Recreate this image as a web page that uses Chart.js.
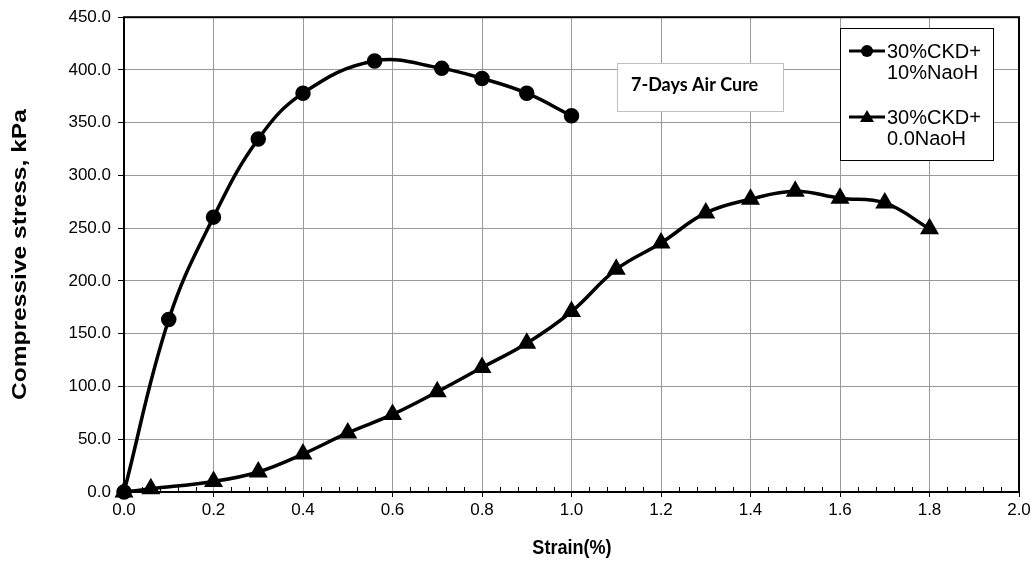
<!DOCTYPE html>
<html>
<head>
<meta charset="utf-8">
<script src="https://cdn.jsdelivr.net/npm/chart.js@4.4.1/dist/chart.umd.min.js"></script>
<style>
  html, body { margin: 0; padding: 0; background: #fff; }
  #wrap { width: 1034px; height: 561px; }
</style>
</head>
<body>
<div id="wrap"><canvas id="stressChart" width="1034" height="561"></canvas></div>
<script>
// strain (%) vs compressive stress (kPa)
const strainNaoh = [0, 0.1, 0.2, 0.3, 0.4, 0.56, 0.71, 0.8, 0.9, 1.0];
const stressNaoh = [0, 163.5, 260.5, 334.5, 378, 408.5, 401.5, 392, 378, 356.5];

const strainPlain = [0, 0.06, 0.2, 0.3, 0.4, 0.5, 0.6, 0.7, 0.8, 0.9, 1.0, 1.1, 1.2, 1.3, 1.4, 1.5, 1.6, 1.7, 1.8];
const stressPlain = [0, 3, 10, 19, 36, 56, 73.5, 95, 118, 141, 171, 211, 236, 264.5, 277.5, 285, 278.5, 274, 249.5];

const seriesNames = [["30%CKD+", "10%NaoH"], ["30%CKD+", "0.0NaoH"]];
const noteText = "7-Days Air Cure";
const xTitle = "Strain(%)";
const yTitle = "Compressive stress, kPa";

const xTicks = [0, 0.2, 0.4, 0.6, 0.8, 1.0, 1.2, 1.4, 1.6, 1.8, 2.0];
const yTicks = [0, 50, 100, 150, 200, 250, 300, 350, 400, 450];

const pairs = (xs, ys) => xs.map((x, i) => ({ x: x, y: ys[i] }));

const FONT = "'Liberation Sans', Arial, sans-serif";

// frame, minor ticks, note box, axis titles and the legend
const decor = {
  id: "decor",
  beforeDatasetsDraw(chart) {
    const { ctx, chartArea: a, scales: { x } } = chart;
    ctx.save();
    // minor ticks on the strain axis, pointing into the plot
    ctx.strokeStyle = "#000";
    ctx.lineWidth = 1;
    for (let i = 0; i <= 50; i++) {
      if (i % 5 === 0) continue;
      const px = Math.round(x.getPixelForValue(i * 0.04)) + 0.5;
      ctx.beginPath();
      ctx.moveTo(px, a.bottom);
      ctx.lineTo(px, a.bottom - 5);
      ctx.stroke();
    }
    // plot frame
    ctx.lineWidth = 2;
    ctx.strokeRect(a.left, a.top, a.right - a.left, a.bottom - a.top);

    // note box
    ctx.fillStyle = "#fff";
    ctx.fillRect(617, 63, 166, 48);
    ctx.strokeStyle = "#c0c0c0";
    ctx.lineWidth = 1;
    ctx.strokeRect(617.5, 63.5, 166, 48);
    ctx.fillStyle = "#000";
    ctx.font = "bold 18px Lato, 'Open Sans', sans-serif";
    ctx.textBaseline = "middle";
    ctx.textAlign = "left";
    ctx.fillText(noteText, 631, 85);
    ctx.restore();
  },
  afterDraw(chart) {
    const { ctx, chartArea: a } = chart;
    ctx.save();

    // axis titles, a little taller than wide
    ctx.fillStyle = "#000";
    ctx.textAlign = "center";
    ctx.textBaseline = "middle";
    ctx.font = "bold 21px " + FONT;
    ctx.save();
    ctx.translate((a.left + a.right) / 2 + 0.5, 548);
    ctx.scale(0.86, 1);
    ctx.fillText(xTitle, 0, 0);
    ctx.restore();
    ctx.save();
    ctx.translate(20, (a.top + a.bottom) / 2);
    ctx.rotate(-Math.PI / 2);
    ctx.scale(1.17, 1);
    ctx.fillText(yTitle, 0, 0);
    ctx.restore();

    // legend
    ctx.fillStyle = "#fff";
    ctx.fillRect(840, 28, 153, 132);
    ctx.strokeStyle = "#000";
    ctx.lineWidth = 1;
    ctx.strokeRect(840.5, 28.5, 153, 132);

    ctx.font = "20px " + FONT;
    ctx.textBaseline = "middle";
    ctx.textAlign = "left";
    const rows = [51, 117];
    chart.data.datasets.forEach((ds, i) => {
      const y = rows[i];
      ctx.strokeStyle = "#000";
      ctx.lineWidth = 3;
      ctx.beginPath();
      ctx.moveTo(849, y);
      ctx.lineTo(885, y);
      ctx.stroke();
      ctx.fillStyle = "#000";
      ctx.beginPath();
      if (ds.pointStyle === "triangle") {
        ctx.moveTo(867, y - 7);
        ctx.lineTo(874, y + 5);
        ctx.lineTo(860, y + 5);
        ctx.closePath();
      } else {
        ctx.arc(867, y, 6, 0, Math.PI * 2);
      }
      ctx.fill();
      ctx.fillText(seriesNames[i][0], 887, y + 1);
      ctx.fillText(seriesNames[i][1], 887, y + 22);
    });
    ctx.restore();
  }
};

new Chart(document.getElementById("stressChart"), {
  type: "line",
  data: {
    datasets: [
      {
        label: seriesNames[0].join(" "),
        data: pairs(strainNaoh, stressNaoh),
        borderColor: "#000",
        backgroundColor: "#000",
        borderWidth: 3.5,
        pointStyle: "circle",
        pointRadius: 6,
        tension: 0.4,
        clip: false
      },
      {
        label: seriesNames[1].join(" "),
        data: pairs(strainPlain, stressPlain),
        borderColor: "#000",
        backgroundColor: "#000",
        borderWidth: 3.5,
        pointStyle: "triangle",
        pointRadius: 7.5,
        tension: 0.4,
        clip: false
      }
    ]
  },
  options: {
    responsive: false,
    animation: false,
    layout: { padding: { top: 16, right: 15, left: 0, bottom: 0 } },
    plugins: {
      legend: { display: false },
      tooltip: { enabled: false }
    },
    scales: {
      x: {
        type: "linear",
        min: 0,
        max: 2,
        afterBuildTicks: (s) => { s.ticks = xTicks.map((v) => ({ value: v })); },
        afterFit: (s) => { s.height = 69; },
        ticks: {
          color: "#000",
          font: { family: FONT, size: 17 },
          padding: 3,
          maxRotation: 0,
          callback: (v) => Number(v).toFixed(1)
        },
        grid: { color: "#9a9a9a", lineWidth: 1, tickLength: 5, tickColor: "#000" },
        border: { display: false }
      },
      y: {
        min: 0,
        max: 450,
        afterBuildTicks: (s) => { s.ticks = yTicks.map((v) => ({ value: v })); },
        afterFit: (s) => { s.width = 124; },
        ticks: {
          color: "#000",
          font: { family: FONT, size: 17 },
          padding: 7,
          callback: (v) => Number(v).toFixed(1)
        },
        grid: { color: "#9a9a9a", lineWidth: 1, tickLength: 6, tickColor: "#000" },
        border: { display: false }
      }
    }
  },
  plugins: [decor]
});
</script>
</body>
</html>
